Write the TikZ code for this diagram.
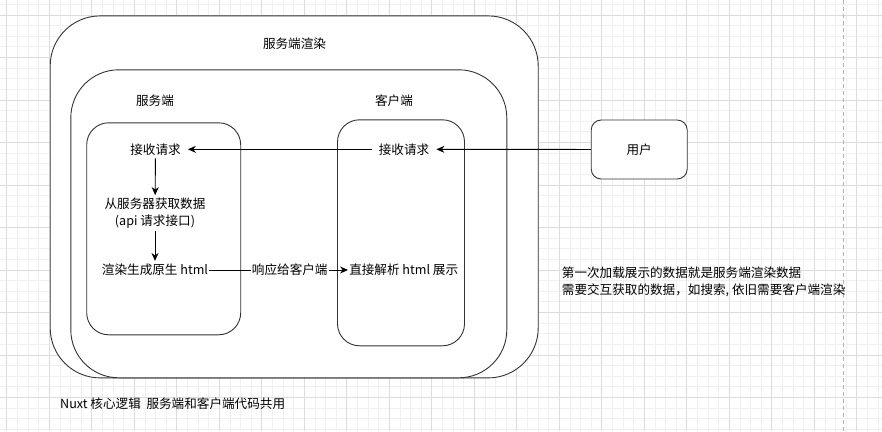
\documentclass[tikz,border=0pt]{standalone}
\usepackage{fontspec}
\setmainfont{Noto Sans CJK SC}
\usetikzlibrary{arrows.meta, positioning}
\definecolor{gridminor}{HTML}{F0F0F0}
\definecolor{gridmajor}{HTML}{DCDCDC}
\definecolor{boxline}{HTML}{333333}
\tikzset{
  panel/.style={draw=boxline, fill=white, line width=0.9pt},
  txt/.style={inner xsep=1, inner ysep=3, align=center},
  arrow/.style={-{Stealth[length=8pt,width=7pt]}, line width=0.9pt}
}

\begin{document}
\begin{tikzpicture}[x=1pt, y=-1pt, font=\fontsize{12.6}{16.5}\selectfont]
  \useasboundingbox (0,0) rectangle (882,431);
  % Grid background
  \fill[white] (0,0) rectangle (882,431);
  \foreach \i in {-1,...,83} \draw[gridminor, line width=0.8pt] ({6.8+10.625*\i},0) -- ++(0,431);
  \foreach \i in {-2,...,39} \draw[gridminor, line width=0.8pt] (0,{15+10.625*\i}) -- ++(882,0);
  \foreach \i in {0,...,20} \draw[gridmajor, line width=0.8pt] ({6.8+42.5*\i},0) -- ++(0,431);
  \foreach \i in {0,...,9} \draw[gridmajor, line width=0.8pt] (0,{15+42.5*\i}) -- ++(882,0);
  \draw[gray!60, line width=0.8pt, dash pattern=on 4pt off 3pt] (843.3,0) -- (843.3,431);

  % Containers
  \node[panel, rounded corners=50, minimum width=488, minimum height=362] (ssr) at (294.2,196.9) {};
  \node[panel, rounded corners=48, minimum width=436, minimum height=308] (core) at (288.8,223.8) {};
  \node[panel, rounded corners=22, minimum width=154, minimum height=212] (server) at (163.7,228.8) {};
  \node[panel, rounded corners=22, minimum width=127, minimum height=226] (client) at (401,232.8) {};
  \node[panel, rounded corners=10, minimum width=96, minimum height=59] (user) at (639.2,149.5) {用户};

  % Titles
  \node (ssrtitle) at (294.5,44) {服务端渲染};
  \node (servertitle) at (155,101) {服务端};
  \node (clienttitle) at (394,101) {客户端};

  % Steps
  \node[txt, inner xsep=7] (sreq) at (155.5,149.3) {接收请求};
  \node[txt] (fetch) at (155,213.3) {从服务器获取数据\\(api 请求接口)};
  \node[txt] (render) at (155,270) {渲染生成原生 html};
  \node[txt, inner xsep=7] (creq) at (404,149.3) {接收请求};
  \node[txt] (parse) at (403.7,270) {直接解析 html 展示};

  % Notes
  \node[align=left, anchor=west, inner sep=0] (note) at (561.7,282) {第一次加载展示的数据就是服务端渲染数据\\需要交互获取的数据，如搜索, 依旧需要客户端渲染};
  \node[anchor=west, inner sep=0] (caption) at (60,404) {Nuxt 核心逻辑\ \ 服务端和客户端代码共用};

  % Arrows
  \draw[arrow] (user) -- (creq);
  \draw[arrow] (creq) -- (sreq);
  \draw[arrow] (sreq) -- (fetch);
  \draw[arrow] (fetch) -- (render);
  \draw[arrow] (render) -- node[fill=white, inner sep=1, pos=0.58] (resp) {响应给客户端} (parse);
\end{tikzpicture}
\end{document}
